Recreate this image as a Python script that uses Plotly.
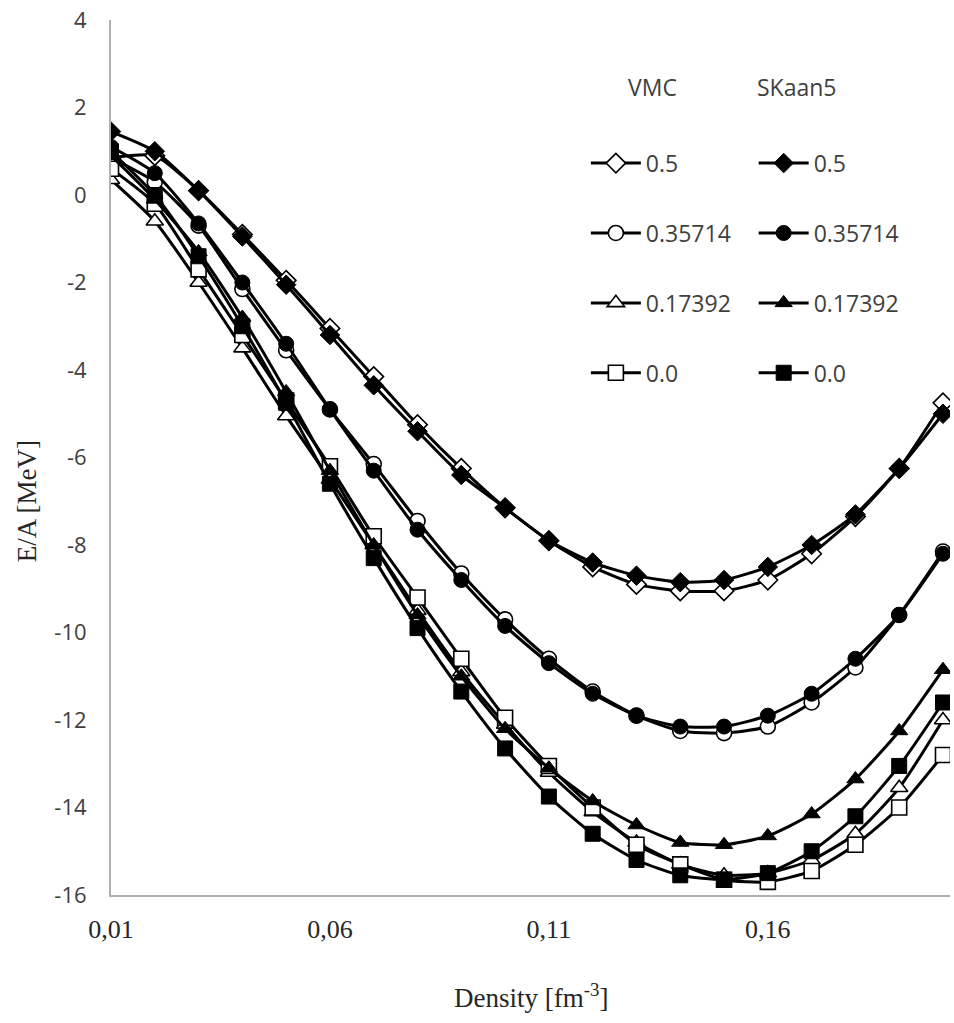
import plotly.graph_objects as go

density = [0.01, 0.02, 0.03, 0.04, 0.05, 0.06, 0.07, 0.08, 0.09, 0.10,
           0.11, 0.12, 0.13, 0.14, 0.15, 0.16, 0.17, 0.18, 0.19, 0.20]

vmc_05 = [0.85, 0.9, 0.1, -0.9, -1.95, -3.05, -4.15, -5.25, -6.25, -7.15,
          -7.9, -8.5, -8.9, -9.05, -9.05, -8.8, -8.2, -7.35, -6.25, -4.75]
sk_05 = [1.45, 1.0, 0.1, -0.95, -2.05, -3.2, -4.35, -5.4, -6.4, -7.15,
         -7.9, -8.4, -8.7, -8.85, -8.8, -8.5, -8.0, -7.3, -6.25, -5.0]

vmc_035714 = [0.85, 0.3, -0.7, -2.15, -3.55, -4.9, -6.15, -7.45, -8.65, -9.7,
              -10.6, -11.35, -11.9, -12.25, -12.3, -12.15, -11.6, -10.8, -9.6, -8.15]
sk_035714 = [1.1, 0.5, -0.65, -2.0, -3.4, -4.9, -6.3, -7.65, -8.8, -9.85,
             -10.7, -11.4, -11.9, -12.15, -12.15, -11.9, -11.4, -10.6, -9.6, -8.2]

vmc_017392 = [0.35, -0.6, -2.0, -3.5, -5.05, -6.5, -8.0, -9.5, -10.9, -12.1,
              -13.2, -14.1, -14.8, -15.3, -15.55, -15.5, -15.2, -14.6, -13.55, -12.0]
sk_017392 = [0.9, -0.1, -1.3, -2.8, -4.5, -6.3, -8.0, -9.6, -11.0, -12.2,
             -13.1, -13.85, -14.4, -14.8, -14.85, -14.65, -14.15, -13.35, -12.25, -10.85]

vmc_00 = [0.6, -0.2, -1.7, -3.2, -4.7, -6.2, -7.8, -9.2, -10.6, -11.95,
          -13.05, -14.0, -14.85, -15.3, -15.65, -15.7, -15.45, -14.85, -14.0, -12.8]
sk_00 = [1.0, 0.0, -1.4, -3.0, -4.75, -6.6, -8.3, -9.9, -11.35, -12.65,
         -13.75, -14.6, -15.2, -15.55, -15.65, -15.5, -15.0, -14.2, -13.05, -11.6]

labels = ["0.5", "0.35714", "0.17392", "0.0"]
vmc_series = [vmc_05, vmc_035714, vmc_017392, vmc_00]
sk_series = [sk_05, sk_035714, sk_017392, sk_00]
symbols = ["diamond", "circle", "triangle-up", "square"]
marker_sizes = [15, 15, 15, 15]

x_tickvals = [0.01, 0.06, 0.11, 0.16]
x_ticktext = ["0,01", "0,06", "0,11", "0,16"]
y_tickvals = [4, 2, 0, -2, -4, -6, -8, -10, -12, -14, -16]
y_ticktext = ["4", "2", "0", "-2", "-4", "-6", "-8", "-10", "-12", "-14", "-16"]

fig = go.Figure()

for i, (lab, ys) in enumerate(zip(labels, vmc_series)):
    fig.add_trace(go.Scatter(
        x=density, y=ys, name=lab, mode="lines+markers",
        line=dict(color="black", width=3, shape="spline", smoothing=0.6),
        marker=dict(symbol=symbols[i], size=marker_sizes[i], color="white",
                    line=dict(color="black", width=1.6)),
        legend="legend", legendgroup="v" + str(i),
    ))
for i, (lab, ys) in enumerate(zip(labels, sk_series)):
    fig.add_trace(go.Scatter(
        x=density, y=ys, name=lab, mode="lines+markers",
        line=dict(color="black", width=3, shape="spline", smoothing=0.6),
        marker=dict(symbol=symbols[i], size=marker_sizes[i], color="black",
                    line=dict(color="black", width=1)),
        legend="legend2", legendgroup="s" + str(i),
    ))

sans = "Open Sans, Liberation Sans, sans-serif"
serif = "Liberation Serif, Times New Roman, serif"
legend_font = dict(family=sans, size=23, color="#404040")

fig.update_layout(
    width=954, height=1023,
    margin=dict(l=111, r=4, t=20, b=128),
    paper_bgcolor="white", plot_bgcolor="white",
    showlegend=True,
    legend=dict(
        x=0.566, y=0.861, xanchor="left", yanchor="top",
        font=legend_font, tracegroupgap=37, bgcolor="rgba(0,0,0,0)",
        itemwidth=50,
    ),
    legend2=dict(
        x=0.766, y=0.861, xanchor="left", yanchor="top",
        font=legend_font, tracegroupgap=37, bgcolor="rgba(0,0,0,0)",
        itemwidth=50,
    ),
    xaxis=dict(
        range=[0.01, 0.2016], tickvals=x_tickvals, ticktext=x_ticktext,
        showgrid=False, zeroline=False, showline=True, linecolor="#b0b0b0", linewidth=2,
        ticks="", ticklabelstandoff=10, automargin=False,
        tickfont=dict(family=serif, size=26, color="#262626"),
    ),
    yaxis=dict(
        range=[-16, 4], tickvals=y_tickvals, ticktext=y_ticktext,
        showgrid=False, zeroline=False, showline=True, linecolor="#b0b0b0", linewidth=2,
        ticks="", ticklabelstandoff=18, automargin=False,
        tickfont=dict(family=sans, size=22, color="#404040"),
    ),
    annotations=[
        dict(text="VMC", x=0.646, y=0.923, xref="paper", yref="paper",
             xanchor="center", yanchor="middle", showarrow=False, font=legend_font),
        dict(text="SKaan5", x=0.818, y=0.923, xref="paper", yref="paper",
             xanchor="center", yanchor="middle", showarrow=False, font=legend_font),
        dict(text="E/A [MeV]", x=-0.1, y=0.45, xref="paper", yref="paper", textangle=-90,
             xanchor="center", yanchor="middle", showarrow=False,
             font=dict(family=serif, size=27, color="#262626")),
        dict(text="Density [fm<sup>-3</sup>]", x=0.5, y=-0.115, xref="paper", yref="paper",
             xanchor="center", yanchor="middle", showarrow=False,
             font=dict(family=serif, size=27, color="#262626")),
    ],
)

fig.write_html("out.html", config={"displayModeBar": False},
               post_script="document.body.style.margin='0';")
